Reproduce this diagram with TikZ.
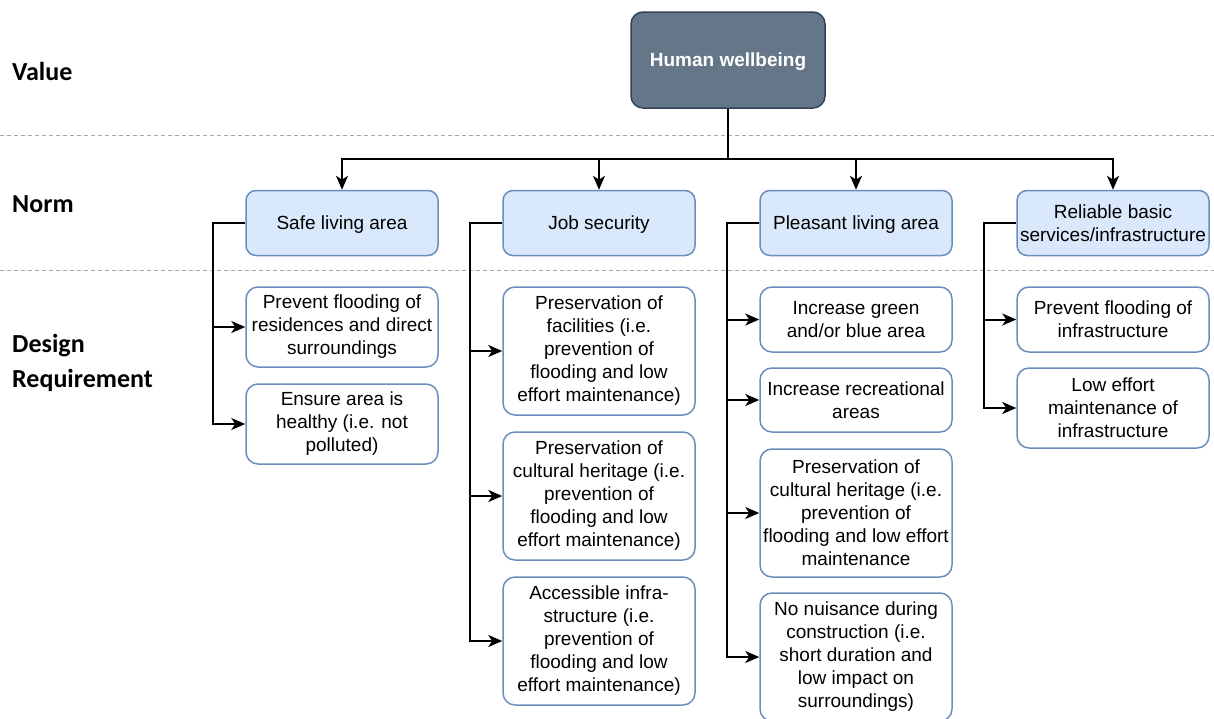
\documentclass[tikz,border=0pt]{standalone}
\usepackage{fontspec}
\setmainfont{Liberation Sans}
\newfontfamily\tierfont{Carlito}
\usetikzlibrary{arrows.meta}

\definecolor{valfill}{HTML}{647687}
\definecolor{valdraw}{HTML}{314354}
\definecolor{normfill}{HTML}{DAE8FC}
\definecolor{normdraw}{HTML}{6C8EBF}
\definecolor{divgray}{HTML}{A6A6A6}

\begin{document}
\begin{tikzpicture}[x=1pt, y=-1pt,
  every node/.style={font=\fontsize{19}{23}\selectfont, align=center, inner sep=0pt},
  valuebox/.style={draw=valdraw, fill=valfill, line width=1.5pt, rounded corners=12pt,
    minimum width=194pt, minimum height=96pt, text=white, text depth=0pt,
    font=\fontsize{19}{23}\selectfont\bfseries},
  normbox/.style={draw=normdraw, fill=normfill, line width=1.5pt, rounded corners=10pt,
    minimum width=192pt, minimum height=65pt},
  reqbox/.style={draw=normdraw, fill=white, line width=1.5pt, rounded corners=12pt,
    minimum width=192pt},
  tier/.style={anchor=west, align=left, font=\tierfont\bfseries\fontsize{26}{35}\selectfont},
  arr/.style={-{Stealth[length=14pt, width=12pt, inset=4pt]}, line width=2pt},
  divider/.style={divgray, dash pattern=on 4pt off 3pt, line width=1pt}]

\useasboundingbox (0,0) rectangle (1214,718);

% Level separators
\draw[divider] (0,135) -- (1214,135);
\draw[divider] (0,270) -- (1214,270);

% Levels
\node[tier] (value) at (12,71) {Value};
\node[tier] (norm) at (12,204) {Norm};
\node[tier] (design) at (12,363) {Design\\Requirement};

% Value
\node[valuebox] (hw) at (728,60) {Human wellbeing};

% Norms
\node[normbox, text depth=0pt] (safe) at (342,223) {Safe living area};
\node[normbox, text depth=0pt] (job) at (599,223) {Job security};
\node[normbox, text depth=0pt] (pleasant) at (856,223) {Pleasant living area};
\node[normbox] (basic) at (1113,223) {Reliable basic\\services/infrastructure};

% Design requirements
\node[reqbox, minimum height=80pt] (safeA) at (342,327) {Prevent flooding of\\residences and direct\\surroundings};
\node[reqbox, minimum height=80pt] (safeB) at (342,424) {Ensure area is\\healthy (i.e. not\\polluted)};

\node[reqbox, minimum height=128pt] (jobA) at (599,351) {Preservation of\\facilities (i.e.\\prevention of\\flooding and low\\effort maintenance)};
\node[reqbox, minimum height=128pt] (jobB) at (599,496) {Preservation of\\cultural heritage (i.e.\\prevention of\\flooding and low\\effort maintenance)};
\node[reqbox, minimum height=128pt] (jobC) at (599,641) {Accessible infra-\\structure (i.e.\\prevention of\\flooding and low\\effort maintenance)};

\node[reqbox, minimum height=65pt] (pleasantA) at (856,319.5) {Increase green\\and/or blue area};
\node[reqbox, minimum height=64pt] (pleasantB) at (856,400) {Increase recreational\\areas};
\node[reqbox, minimum height=128pt] (pleasantC) at (856,513) {Preservation of\\cultural heritage (i.e.\\prevention of\\flooding and low effort\\maintenance};
\node[reqbox, minimum height=128pt] (pleasantD) at (856,657) {No nuisance during\\construction (i.e.\\short duration and\\low impact on\\surroundings)};

\node[reqbox, minimum height=65pt] (basicA) at (1113,319.5) {Prevent flooding of\\infrastructure};
\node[reqbox, minimum height=80pt] (basicB) at (1113,408) {Low effort\\maintenance of\\infrastructure};

% Value to norms
\foreach \n in {safe,job,pleasant,basic}
  \draw[arr] (hw.south) -- ++(0,50) -| (\n.north);

% Norms to design requirements
\foreach \n/\r in {safe/safeA, safe/safeB, job/jobA, job/jobB, job/jobC,
                   pleasant/pleasantA, pleasant/pleasantB, pleasant/pleasantC, pleasant/pleasantD,
                   basic/basicA, basic/basicB}
  \draw[arr] (\n.west) -- ++(-32,0) |- (\r.west);

\end{tikzpicture}
\end{document}
